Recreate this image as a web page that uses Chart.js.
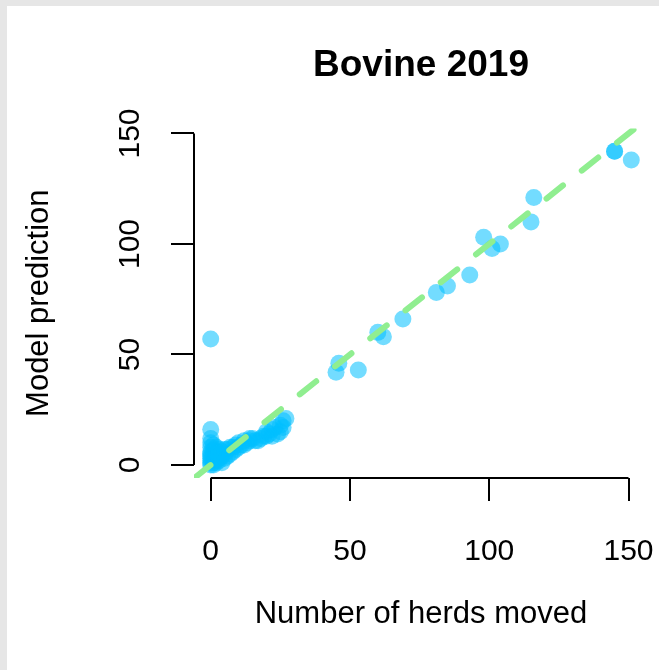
<!DOCTYPE html>
<html>
<head>
<meta charset="utf-8">
<script src="https://cdn.jsdelivr.net/npm/chart.js@4.4.1/dist/chart.umd.min.js"></script>
<style>
    html, body { margin: 0; padding: 0; background: #e6e6e6; }
    #wrap { position: absolute; left: 7px; top: 6px; width: 652px; height: 664px; background: #fff; }
</style>
</head>
<body>
<div id="wrap"><canvas id="bovine-canvas"></canvas></div>
<script>
/**
 * Bovine 2019 - model prediction vs number of herds moved.
 * R-style scatter with a dashed y = x reference line.
 */

// Observed number of herds moved (x) and model prediction (y)
const herdsMoved = [
    0, 0, 0, 0, 0, 0, 0, 0, 0, 0, 0, 0,
    1, 1, 1, 1, 1, 1, 1,
    2, 2, 2, 2, 2,
    3, 3, 3, 3,
    4, 4, 4,
    5, 5, 5,
    6, 6, 7, 7, 8, 8, 9, 9, 10, 10, 11, 12, 12, 13, 14, 14, 15, 16, 17, 18, 19,
    20, 20, 21, 22, 22, 23, 24, 25, 25, 26, 26, 27,
    45, 46, 53, 60, 62, 69, 81, 85, 93, 98, 101, 104, 115, 116, 145, 145, 151,
];
const modelPrediction = [
    0, 1, 2, 3, 4, 5, 6, 8, 10, 12, 16, 57,
    0, 1, 2, 3, 5, 7, 9,
    1, 2, 4, 6, 8,
    2, 3, 5, 7,
    1, 4, 6,
    3, 5, 7,
    4, 7, 5, 8, 6, 8, 7, 9, 8, 10, 9, 9, 11, 10, 11, 12, 12, 11, 11, 12, 13,
    13, 15, 14, 13, 16, 17, 14, 15, 18, 17, 20, 21,
    42, 46, 43, 60, 58, 66, 78, 81, 86, 103, 98, 100, 110, 121, 142, 142, 138,
];

// Reference line y = x (endpoints only, clipped to the plot area)
const refLineX = [-6, 160];
const refLineY = [-6, 160];

const xTicks = [0, 50, 100, 150];
const yTicks = [0, 50, 100, 150];

const COLORS = {
    point: 'rgba(0, 191, 255, 0.55)',
    refLine: '#90ee90',
    axis: '#000000',
    text: '#000000',
};

const FONT = "'Liberation Sans', Arial, Helvetica, sans-serif";

// R-style axis lines: only span from first to last tick
const axisLinePlugin = {
    id: 'axisLines',
    afterDraw(chart) {
        const { ctx, chartArea, scales } = chart;
        const x = scales.x, y = scales.y;
        ctx.save();
        ctx.strokeStyle = COLORS.axis;
        ctx.lineWidth = 2;
        ctx.beginPath();
        ctx.moveTo(chartArea.left, y.getPixelForValue(yTicks[0]));
        ctx.lineTo(chartArea.left, y.getPixelForValue(yTicks[yTicks.length - 1]));
        ctx.moveTo(x.getPixelForValue(xTicks[0]), chartArea.bottom);
        ctx.lineTo(x.getPixelForValue(xTicks[xTicks.length - 1]), chartArea.bottom);
        ctx.stroke();
        ctx.restore();
    }
};

const points = herdsMoved.map((v, i) => ({ x: v, y: modelPrediction[i] }));
const refLine = refLineX.map((v, i) => ({ x: v, y: refLineY[i] }));

new Chart(document.getElementById('bovine-canvas'), {
    type: 'scatter',
    data: {
        datasets: [
            {
                type: 'line',
                label: 'y = x',
                data: refLine,
                borderColor: COLORS.refLine,
                borderWidth: 6,
                borderDash: [21, 24],
                borderCapStyle: 'round',
                pointRadius: 0,
                fill: false,
                order: 0,
            },
            {
                label: 'Bovine 2019',
                data: points,
                backgroundColor: COLORS.point,
                borderWidth: 0,
                pointRadius: 8.5,
                pointHoverRadius: 8.5,
                order: 1,
            },
        ]
    },
    options: {
        responsive: true,
        maintainAspectRatio: false,
        animation: false,
        layout: { padding: { left: 0, right: 11, top: 0, bottom: 0 } },
        plugins: {
            legend: { display: false },
            tooltip: { enabled: false },
            title: {
                display: true,
                text: 'Bovine 2019',
                fullSize: false,
                color: COLORS.text,
                font: { family: FONT, size: 37, weight: 'bold' },
                padding: { top: 38, bottom: 40 },
            },
        },
        scales: {
            x: {
                type: 'linear',
                min: -6,
                max: 157,
                afterFit: scale => {
                    scale.height = 192;
                    scale.paddingLeft = 0;
                    scale.paddingRight = 0;
                },
                afterBuildTicks: scale => { scale.ticks = xTicks.map(v => ({ value: v })); },
                grid: {
                    drawOnChartArea: false,
                    drawTicks: true,
                    tickLength: 23,
                    color: COLORS.axis,
                    lineWidth: 2,
                },
                border: { display: false },
                ticks: {
                    color: COLORS.text,
                    font: { family: FONT, size: 30 },
                    padding: 33,
                    maxRotation: 0,
                    includeBounds: false,
                },
                title: {
                    display: true,
                    text: 'Number of herds moved',
                    color: COLORS.text,
                    font: { family: FONT, size: 31 },
                    padding: { top: 0, bottom: 37 },
                },
            },
            y: {
                type: 'linear',
                min: -5.9,
                max: 152.3,
                afterFit: scale => {
                    scale.width = 187;
                    scale.paddingTop = 0;
                    scale.paddingBottom = 0;
                },
                afterBuildTicks: scale => { scale.ticks = yTicks.map(v => ({ value: v })); },
                grid: {
                    drawOnChartArea: false,
                    drawTicks: true,
                    tickLength: 23,
                    color: COLORS.axis,
                    lineWidth: 2,
                },
                border: { display: false },
                ticks: {
                    color: COLORS.text,
                    font: { family: FONT, size: 30 },
                    padding: 15,
                    minRotation: 90,
                    maxRotation: 90,
                    crossAlign: 'center',
                    includeBounds: false,
                },
                title: {
                    display: true,
                    text: 'Model prediction',
                    color: COLORS.text,
                    font: { family: FONT, size: 31 },
                    padding: { top: 14, bottom: 0 },
                },
            },
        }
    },
    plugins: [axisLinePlugin],
});
</script>
</body>
</html>
